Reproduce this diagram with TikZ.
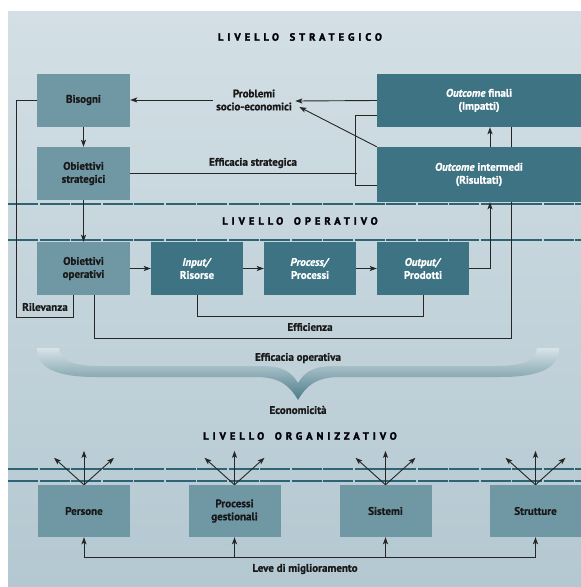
\documentclass[tikz,border=0pt]{standalone}
\usepackage{fontspec}
\setmainfont{PT Sans}[BoldFeatures={FakeBold=0.9},BoldItalicFeatures={FakeBold=0.9}]
\newfontfamily\levelfont{PT Sans}[LetterSpace=38,BoldFeatures={FakeBold=2.2}]
\usetikzlibrary{arrows.meta,backgrounds}

\definecolor{bgtop}{HTML}{D3DFE5}
\definecolor{bgbot}{HTML}{B4C8D1}
\definecolor{lightbox}{HTML}{7097A4}
\definecolor{darkbox}{HTML}{3D7382}
\definecolor{sepline}{HTML}{2E6473}
\definecolor{bracetop}{HTML}{D8E3E8}
\definecolor{bracebot}{HTML}{4A7B88}

\tikzset{
  lbox/.style={fill=lightbox, text=black!90, minimum width=93pt, minimum height=53pt, align=center, inner sep=0pt},
  dbox/.style={fill=darkbox, text=white, minimum width=92pt, minimum height=53pt, align=center, inner sep=0pt},
  lab/.style={align=center, text=black!90},
  level/.style={font=\levelfont\bfseries\fontsize{10.5}{12}\selectfont, text=black!95!blue},
  conn/.style={black!85, line width=0.9pt},
  arr/.style={conn, -{Stealth[length=7pt,width=5pt,inset=1.5pt]}},
  sep/.style={sepline, line width=1.4pt, dash pattern=on 30pt off 1.5pt},
}
\newcommand{\wsp}{\ \hspace{4pt}}

\begin{document}
\begin{tikzpicture}[x=1pt,y=-1pt,font=\bfseries\fontsize{11}{13}\selectfont]
  \useasboundingbox (0,0) rectangle (581,587);
  \begin{scope}[on background layer]
    \shade[top color=bgtop,bottom color=bgbot] (8,11) rectangle (581,587);
    \draw[sep] (8,204) -- (581,204);
    \draw[sep] (8,240) -- (581,240);
    \draw[sep] (8,469) -- (581,469);
    \draw[sep] (8,481) -- (581,481);
  \end{scope}

  % livello strategico
  \node[level] (strat) at (300,37) {LIVELLO\wsp STRATEGICO};
  \node[lbox] (bis) at (83.5,100) {Bisogni};
  \node[lbox] (obs) at (83.5,173.5) {Obiettivi\\strategici};
  \node[lab] (prob) at (254,100) {Problemi\\socio-economici};
  \node[dbox, minimum width=204pt] (ofin) at (479,100.5) {\textit{Outcome} finali\\(Impatti)};
  \node[dbox, minimum width=204pt, minimum height=55pt] (oint) at (479,174.5) {\textit{Outcome} intermedi\\(Risultati)};
  \node[lab] (effstr) at (253,163) {Efficacia strategica};

  % livello operativo
  \node[level] (oper) at (300,221) {LIVELLO\wsp OPERATIVO};
  \node[lbox] (oop) at (83.5,268.5) {Obiettivi\\operativi};
  \node[dbox] (inp) at (197,268.5) {\textit{Input/}\\Risorse};
  \node[dbox] (proc) at (310,268.5) {\textit{Process/}\\Processi};
  \node[dbox] (outp) at (423,268.5) {\textit{Output/}\\Prodotti};
  \node[lab] (ril) at (45,307) {Rilevanza};
  \node[lab] (effi) at (310,327) {Efficienza};

  \draw[arr] (prob.west) -- (bis.east);
  \draw[arr] (ofin.west) -- ([yshift=-1pt]prob.east);
  \draw[arr] (oint.north west) -- ([xshift=4pt,yshift=-7pt]prob.east);
  \draw[arr] (bis) -- (obs);
  \draw[arr] (obs) -- (oop);
  \draw[arr] (oop) -- (inp);
  \draw[arr] (inp) -- (proc);
  \draw[arr] (proc) -- (outp);
  \draw[arr] (outp.east) -| ([xshift=11pt]oint.south);
  \draw[arr] ([xshift=11pt]oint.north) -- ([xshift=11pt]ofin.south);
  \draw[conn] ([yshift=-14.5pt]ofin.west) -- ++(-21,0) |- ([yshift=-10.5pt]oint.west);
  \draw[conn] (obs.east) -- ++(226.5,0);
  \draw[conn] (bis.west) -- ++(-20,0) |- ([xshift=-10.5pt,yshift=-22pt]oop.south) -- ([xshift=-10.5pt]oop.south);
  \draw[conn] (inp.south) -- ++(0,21) -| (outp.south);
  \begin{scope}[on background layer]
    \draw[conn] ([xshift=10.5pt]oop.south) -- ++(0,43) -| ([xshift=32pt]ofin.south);
  \end{scope}

  % graffa
  \shade[top color=bracetop, bottom color=bracebot]
    (37,348) -- (59,348) .. controls (60,360) and (72,366) .. (100,366) -- (262,366)
    .. controls (284,366) and (292,373) .. (298,383) .. controls (304,373) and (312,366) .. (334,366)
    -- (496,366) .. controls (524,366) and (536,360) .. (537,348) -- (559,348)
    .. controls (559,368) and (540,377) .. (500,377) -- (340,377)
    .. controls (316,377) and (306,386) .. (298,400) .. controls (290,386) and (280,377) .. (256,377)
    -- (96,377) .. controls (56,377) and (37,368) .. (37,348) -- cycle;
  \node[lab] (effop) at (298,358) {Efficacia operativa};
  \node[lab] (econ) at (298,410) {Economicità};

  % livello organizzativo
  \node[level] (org) at (300,436) {LIVELLO\wsp ORGANIZZATIVO};
  \node[lbox, minimum width=92pt, minimum height=52pt] (pers) at (84,511) {Persone};
  \node[lbox, minimum width=92pt, minimum height=52pt] (procg) at (234.5,511) {Processi\\gestionali};
  \node[lbox, minimum width=92pt, minimum height=52pt] (sist) at (385.5,511) {Sistemi};
  \node[lbox, minimum width=92pt, minimum height=52pt] (strut) at (535.5,511) {Strutture};
  \node[lab] (leve) at (305,569) {Leve di miglioramento};

  \foreach \n in {pers,procg,sist,strut} {
    \draw[arr] (\n.north) -- ++(-30,-27);
    \draw[arr] (\n.north) -- ++(0,-34);
    \draw[arr] (\n.north) -- ++(30,-27);
    \draw[arr] ([yshift=-20pt]\n.south) -- (\n.south);
  }
  \draw[conn] ([yshift=-20pt]pers.south) -- ([yshift=-20pt]strut.south);
\end{tikzpicture}
\end{document}
